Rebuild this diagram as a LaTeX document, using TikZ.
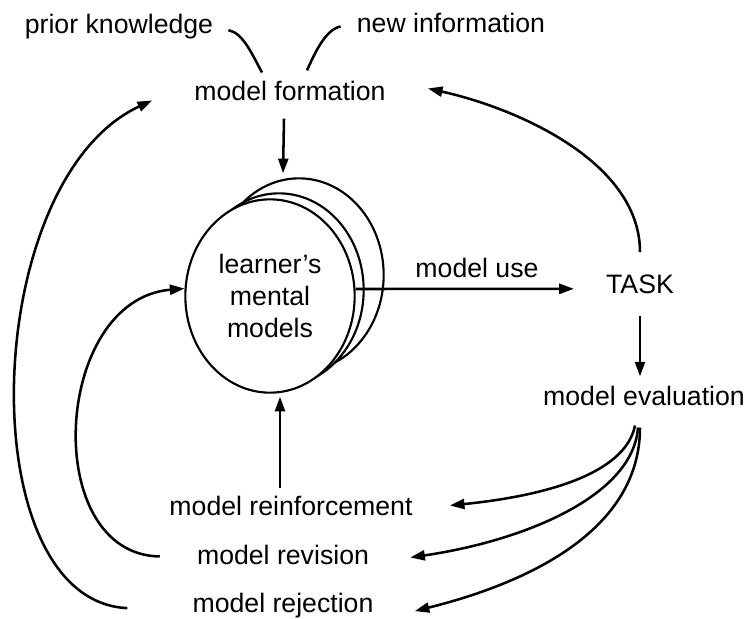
\documentclass[tikz,border=0pt]{standalone}
\usepackage{fontspec}
\setmainfont{Liberation Sans}
\usetikzlibrary{positioning,arrows.meta,shapes.geometric}
\tikzstyle{line} = [draw,line width=1.9pt]
\tikzstyle{flow} = [line,-{Triangle[length=11pt,width=7.5pt]}]

\begin{document}
\begin{tikzpicture}[x=0.75pt,y=-0.75pt]
  \tikzstyle{phase} = [anchor=base,inner sep=3pt,font=\fontsize{20}{24}\selectfont]
  \tikzstyle{mind} = [ellipse,draw,line width=1.6pt,fill=white,minimum width=127pt,minimum height=145pt,inner sep=0pt]
  \useasboundingbox (0,0) rectangle (745,618);
  % labels
  \node[phase] (prior) at (119,33) {prior knowledge};
  \node[phase] (newinfo) at (451,32) {new information};
  \node[phase] (formation) at (290,100) {model formation};
  \node[phase] (uselabel) at (477,277) {model use};
  \node[phase] (task) at (640,293) {TASK};
  \node[phase] (evaluation) at (644,405) {model evaluation};
  \node[phase] (reinforce) at (291,515) {model reinforcement};
  \node[phase] (revision) at (283,564) {model revision};
  \node[phase] (rejection) at (283,612) {model rejection};
  % the stacked models
  \node[mind] (back2) at (299,275) {};
  \node[mind] (back1) at (279,290) {};
  \node[mind,align=center,font=\fontsize{20}{24}\selectfont] (front) at (270,296) {learner's\\mental\\models};
  % inputs
  \draw[line] ([shift={(11,4)}]prior.east) .. controls +(15,3) and +(-10,-18) .. ([shift={(-28,-4)}]formation.north);
  \draw[line] ([shift={(-12,4)}]newinfo.west) .. controls +(-15,3) and +(8,-18) .. ([shift={(17,-6)}]formation.north);
  % straight arrows
  \draw[flow] ([shift={(-6,14)}]formation.south) -- ([shift={(-16,-4)}]back2.north);
  \draw[flow] ([shift={(0,-7)}]front.east) -- ([shift={(-28,5)}]task.west);
  \draw[flow] ([shift={(0,18)}]task.south) -- ([shift={(-4,-5)}]evaluation.north);
  \draw[flow] ([shift={(-11,-3)}]reinforce.north) -- ([shift={(10,3)}]front.south);
  % back to formation
  \draw[flow] ([shift={(0,-18)}]task.north) .. controls +(0,-90) and +(90,20) .. ([shift={(38,-2)}]formation.east);
  \draw[flow] ([shift={(-61,3)}]rejection.west) .. controls +(-158,-7) and +(-173,80) .. ([shift={(-38,10)}]formation.west);
  \draw[flow] ([shift={(-33,2)}]revision.west) .. controls +(-120,-2) and +(-132,11) .. (front.175);
  % outcomes of evaluation
  \draw[flow] ([shift={(-9,16)}]evaluation.south) .. controls +(-10,50) and +(90,-9) .. ([shift={(33,0)}]reinforce.east);
  \draw[flow] ([shift={(-6,18)}]evaluation.south) .. controls +(-5,70) and +(110,-16) .. ([shift={(37,3)}]revision.east);
  \draw[flow] ([shift={(-4,18)}]evaluation.south) .. controls +(0,100) and +(120,-30) .. ([shift={(37,6)}]rejection.east);
\end{tikzpicture}
\end{document}
